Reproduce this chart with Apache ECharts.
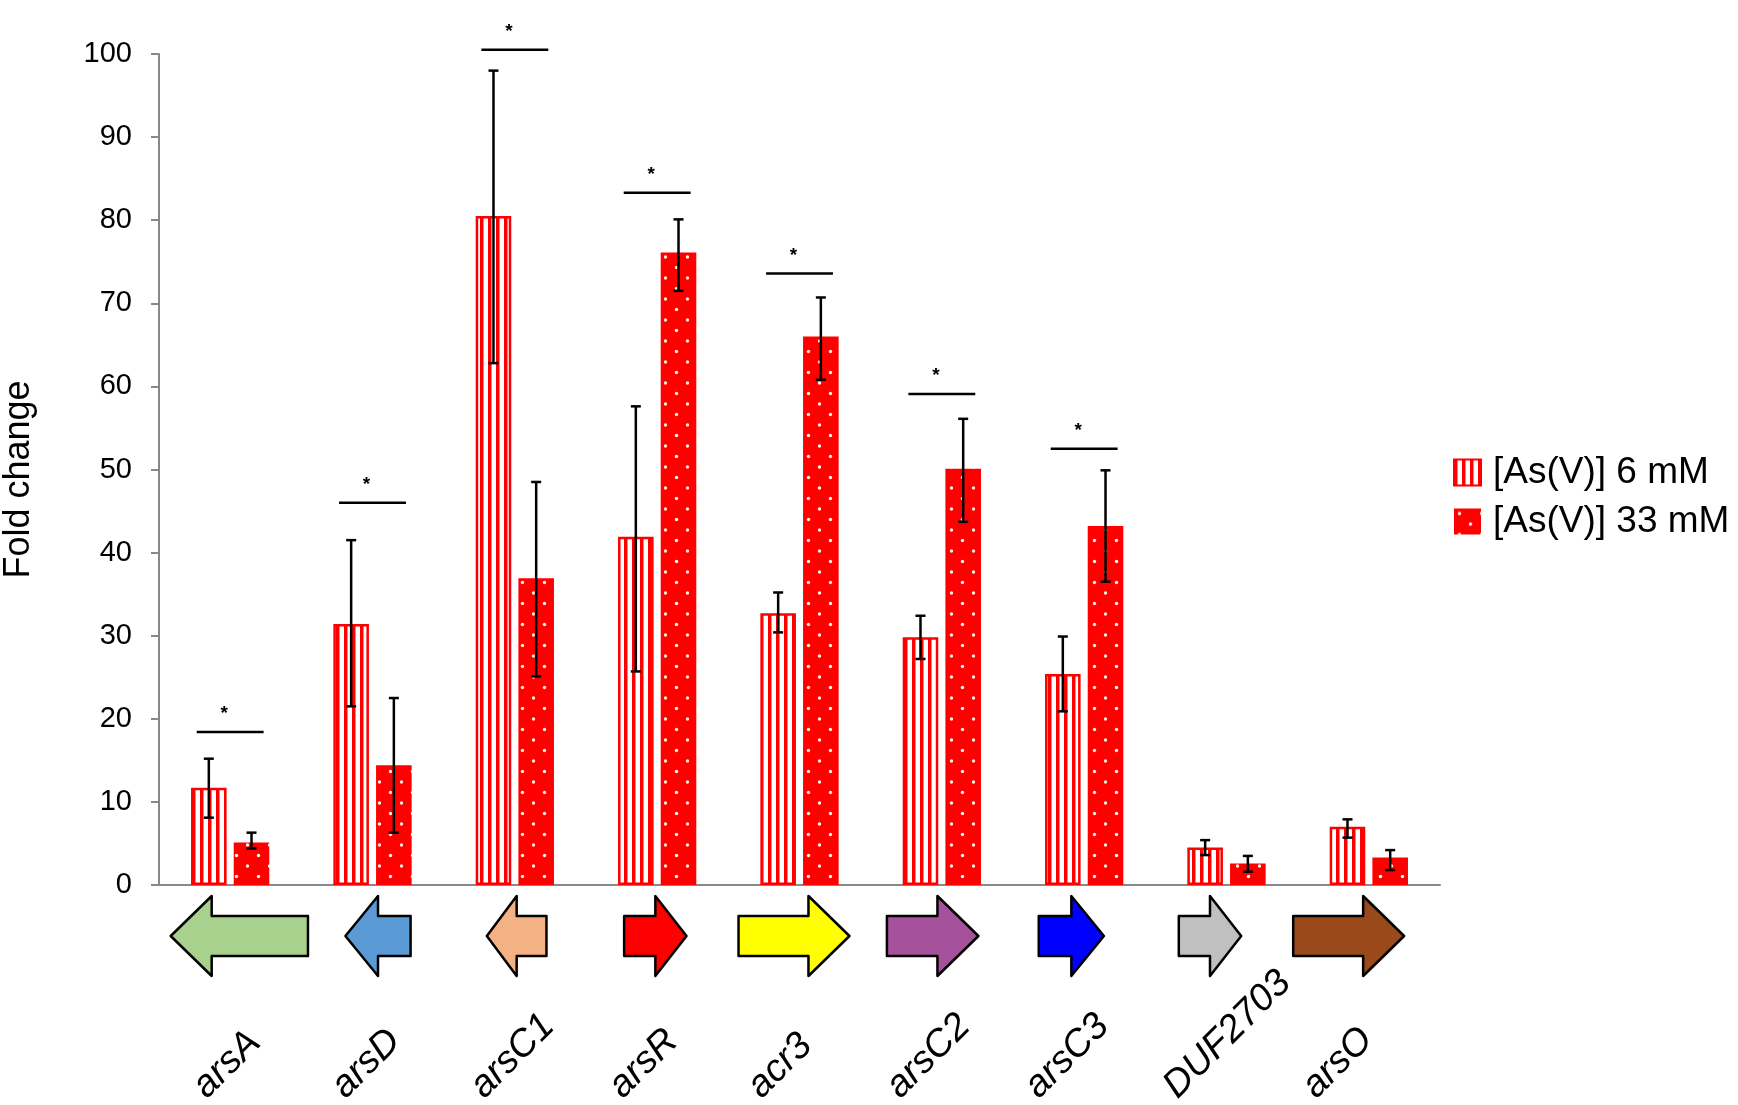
<!DOCTYPE html>
<html>
<head>
<meta charset="utf-8">
<script src="https://cdn.jsdelivr.net/npm/echarts/dist/echarts.min.js"></script>
<style>
html, body { margin: 0; padding: 0; background: #fff; }
#main { width: 1738px; height: 1105px; }
</style>
</head>
<body>
<div id="main"></div>
<script>
// genes of the ars cluster
var genes = ['arsA', 'arsD', 'arsC1', 'arsR', 'acr3', 'arsC2', 'arsC3', 'DUF2703', 'arsO'];
// fold change at 6 mM As(V), with error bar ends
var fold6 = [11.7, 31.4, 80.5, 41.9, 32.7, 29.8, 25.4, 4.5, 7.0];
var err6Low = [8.1, 21.5, 62.8, 25.7, 30.4, 27.2, 20.9, 3.6, 5.7];
var err6High = [15.2, 41.5, 98.0, 57.6, 35.2, 32.4, 29.9, 5.4, 7.9];
// fold change at 33 mM As(V), with error bar ends
var fold33 = [5.1, 14.4, 36.9, 76.1, 66.0, 50.1, 43.2, 2.6, 3.3];
var err33Low = [4.4, 6.3, 25.1, 71.5, 60.8, 43.7, 36.5, 1.6, 1.8];
var err33High = [6.3, 22.5, 48.5, 80.1, 70.7, 56.1, 49.9, 3.5, 4.2];
// height of the significance bar (null = none)
var sigLevel = [18.4, 46.0, 100.5, 83.3, 73.6, 59.1, 52.5, null, null];
// gene arrows: relative length and strand (-1 = leftward)
var geneLen = [0.99, 0.47, 0.43, 0.45, 0.80, 0.66, 0.47, 0.45, 0.80];
var geneDir = [-1, -1, -1, 1, 1, 1, 1, 1, 1];
var yTicks = [0, 100, 10];
var seriesNames = ['[As(V)] 6 mM', '[As(V)] 33 mM'];

var geneColors = ['#a9d18e', '#5b9bd5', '#f4b183', '#ff0000', '#ffff00', '#a5519c', '#0000ff', '#c0c0c0', '#99491a'];
var FONT = '"Liberation Sans", Arial, Helvetica, sans-serif';
var RED = '#ff0000';

// fill patterns
function stripes() {
    var c = document.createElement('canvas');
    c.width = 8; c.height = 8;
    var g = c.getContext('2d');
    g.fillStyle = '#fff';
    g.fillRect(0, 0, 8, 8);
    g.fillStyle = RED;
    g.fillRect(0, 0, 3.5, 8);
    return c;
}
function dots() {
    var c = document.createElement('canvas');
    c.width = 22; c.height = 21;
    var g = c.getContext('2d');
    g.fillStyle = RED;
    g.fillRect(0, 0, 22, 21);
    g.fillStyle = '#fff2e6';
    g.beginPath(); g.arc(5.5, 5, 1.7, 0, Math.PI * 2); g.fill();
    g.beginPath(); g.arc(16.5, 15.5, 1.7, 0, Math.PI * 2); g.fill();
    return c;
}

var BAR_W = 0.25, BAR_GAP = 0.2;

function errorBar(side) {
    return function (params, api) {
        var bw = api.size([1, 0])[0];
        var off = side * bw * BAR_W * (1 + BAR_GAP) / 2;
        var lo = api.coord([api.value(0), api.value(1)]);
        var hi = api.coord([api.value(0), api.value(2)]);
        var x = lo[0] + off, cap = 5;
        var st = { stroke: '#000', lineWidth: 2.5 };
        return {
            type: 'group',
            children: [
                { type: 'line', shape: { x1: x, y1: lo[1], x2: x, y2: hi[1] }, style: st },
                { type: 'line', shape: { x1: x - cap, y1: hi[1], x2: x + cap, y2: hi[1] }, style: st },
                { type: 'line', shape: { x1: x - cap, y1: lo[1], x2: x + cap, y2: lo[1] }, style: st }
            ]
        };
    };
}

function sigBar(params, api) {
    var bw = api.size([1, 0])[0];
    var p = api.coord([api.value(0), api.value(1)]);
    var half = bw * 0.235;
    return {
        type: 'group',
        children: [
            { type: 'line', shape: { x1: p[0] - half, y1: p[1], x2: p[0] + half, y2: p[1] },
              style: { stroke: '#000', lineWidth: 2.5 } },
            { type: 'text', x: p[0] - 6, y: p[1] - 18,
              style: { text: '*', fill: '#000', font: 'bold 19px ' + FONT, align: 'center', verticalAlign: 'middle' } }
        ]
    };
}

function geneArrow(params, api) {
    var i = api.value(0);
    var c = api.coord([i, 0.5]);
    var bw = api.size([1, 0])[0];
    var hh = api.size([0, 1])[1] / 2;
    var bh = hh / 2;
    var L = api.value(2) * bw;
    var head = Math.min(41, L / 2);
    var d = api.value(3);
    function pt(dx, dy) { return [c[0] + d * dx, c[1] + dy]; }
    var pts = [
        pt(-L / 2, -bh), pt(L / 2 - head, -bh), pt(L / 2 - head, -hh), pt(L / 2, 0),
        pt(L / 2 - head, hh), pt(L / 2 - head, bh), pt(-L / 2, bh)
    ];
    return {
        type: 'polygon',
        shape: { points: pts },
        style: { fill: geneColors[i], stroke: '#000', lineWidth: 2.5, lineJoin: 'round' }
    };
}

function geneLabel(params, api) {
    var i = api.value(0);
    var c = api.coord([i, 0.5]);
    return {
        type: 'text',
        x: c[0] - 40,
        y: c[1] + 156,
        rotation: Math.PI / 4,
        style: { text: genes[i], fill: '#000', font: 'italic 38px ' + FONT, align: 'left', verticalAlign: 'middle' }
    };
}

var err6 = genes.map(function (g, i) { return [i, err6Low[i], err6High[i]]; });
var err33 = genes.map(function (g, i) { return [i, err33Low[i], err33High[i]]; });
var sig = [];
sigLevel.forEach(function (v, i) { if (v != null) sig.push([i, v]); });
var arrows = genes.map(function (g, i) { return [i, 0.5, geneLen[i], geneDir[i]]; });

var chart = echarts.init(document.getElementById('main'));
chart.setOption({
    animation: false,
    backgroundColor: '#fff',
    textStyle: { fontFamily: FONT },
    legend: {
        orient: 'vertical',
        left: 1448,
        top: 449,
        itemWidth: 27,
        itemHeight: 26,
        itemGap: 12,
        icon: 'rect',
        textStyle: { fontSize: 37, color: '#000', padding: [0, 0, 0, 7] },
        data: seriesNames
    },
    grid: [
        { left: 159, right: 298, top: 54, bottom: 220, containLabel: false, outerBoundsMode: 'none' },
        { left: 170, right: 320, top: 896, height: 80, containLabel: false, outerBoundsMode: 'none' }
    ],
    xAxis: [
        {
            type: 'category', gridIndex: 0, data: genes,
            axisLine: { lineStyle: { color: '#888', width: 2 } },
            axisTick: { length: 8, lineStyle: { color: '#888', width: 2 } },
            axisLabel: { show: false }
        },
        { type: 'category', gridIndex: 1, data: genes, show: false }
    ],
    yAxis: [
        {
            type: 'value', gridIndex: 0,
            min: yTicks[0], max: yTicks[1], interval: yTicks[2],
            name: 'Fold change', nameLocation: 'middle', nameGap: 122,
            nameTextStyle: { fontSize: 36, color: '#000', padding: [0, 20, 0, 0] },
            axisLine: { show: true, lineStyle: { color: '#888', width: 2 } },
            axisTick: { show: true, length: 8, lineStyle: { color: '#888', width: 2 } },
            axisLabel: { fontSize: 29, color: '#000', margin: 27 },
            splitLine: { show: false }
        },
        { type: 'value', gridIndex: 1, min: 0, max: 1, show: false }
    ],
    series: [
        {
            name: seriesNames[0], type: 'bar', data: fold6,
            barWidth: (BAR_W * 100) + '%', barGap: (BAR_GAP * 100) + '%',
            itemStyle: { color: { image: stripes(), repeat: 'repeat' }, borderColor: RED, borderWidth: 2.5 }
        },
        {
            name: seriesNames[1], type: 'bar', data: fold33,
            barWidth: (BAR_W * 100) + '%',
            itemStyle: { color: { image: dots(), repeat: 'repeat' } }
        },
        { type: 'custom', data: err6, renderItem: errorBar(-1), encode: { x: 0, y: [1, 2] }, z: 5, silent: true },
        { type: 'custom', data: err33, renderItem: errorBar(1), encode: { x: 0, y: [1, 2] }, z: 5, silent: true },
        { type: 'custom', data: sig, renderItem: sigBar, encode: { x: 0, y: 1 }, clip: false, z: 5, silent: true },
        { type: 'custom', xAxisIndex: 1, yAxisIndex: 1, data: arrows, renderItem: geneArrow, encode: { x: 0, y: 1 }, clip: false, silent: true },
        { type: 'custom', xAxisIndex: 1, yAxisIndex: 1, data: arrows, renderItem: geneLabel, encode: { x: 0, y: 1 }, clip: false, silent: true }
    ]
});
</script>
</body>
</html>
